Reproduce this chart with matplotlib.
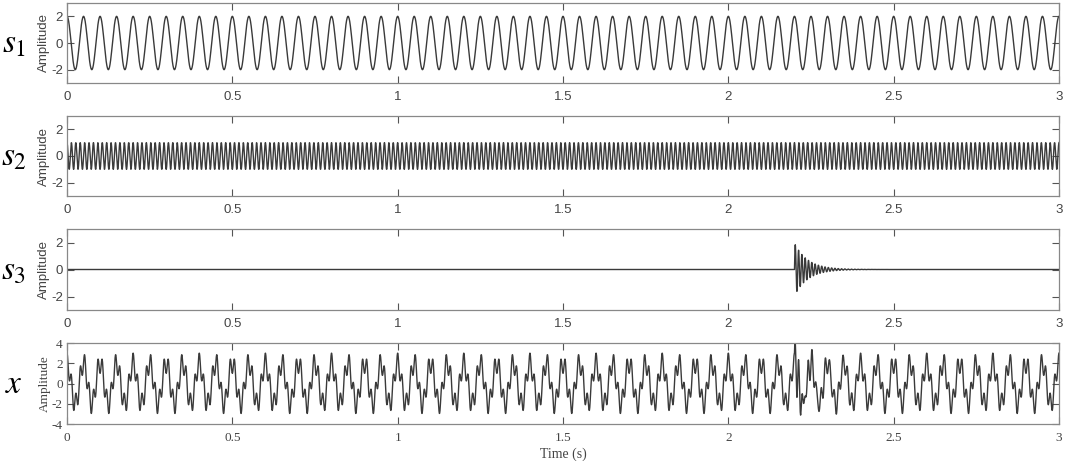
import numpy as np
import matplotlib.pyplot as plt

# signal parameters
fs = 2000                      # samples per second
t_end = 3.0
amps = [2.0, 1.0, 1.95]        # s1, s2, s3
freqs = [20, 75, 100]          # Hz
s3_onset = 2.2                 # s
s3_decay = 25                  # 1/s
names = ['$s_1$', '$s_2$', '$s_3$', '$x$']
xticks = [0, 0.5, 1, 1.5, 2, 2.5, 3]
xtick_labels = ['0', '0.5', '1', '1.5', '2', '2.5', '3']

t = np.arange(0, t_end + 1 / fs, 1 / fs)
s1 = amps[0] * np.cos(2 * np.pi * freqs[0] * t)
s2 = amps[1] * np.cos(2 * np.pi * freqs[1] * t)
tau = np.clip(t - s3_onset, 0, None)
s3 = np.where(t >= s3_onset,
              amps[2] * np.exp(-s3_decay * tau) * np.sin(2 * np.pi * freqs[2] * tau),
              0.0)
x = s1 + s2 + s3

plt.rcParams['mathtext.fontset'] = 'stix'
plt.rcParams['axes.unicode_minus'] = False

W, H = 1065, 461
fig = plt.figure(figsize=(W / 100, H / 100), dpi=100)

# (top, bottom) of each panel in pixels
boxes = [(3, 83), (116, 196), (229, 310), (343, 424)]
left, right = 67, 1059
signals = [s1, s2, s3, x]
line_col = '#3a3a3a'
txt_col = '#444444'

for i, (sig, (top, bot)) in enumerate(zip(signals, boxes)):
    ax = fig.add_axes([left / W, 1 - bot / H, (right - left) / W, (bot - top) / H])
    ax.plot(t, sig, color=line_col, lw=1.0)
    ax.set_xlim(0, 3)
    ax.set_xticks(xticks)
    ax.set_xticklabels(xtick_labels)
    serif = (i == 3)
    fam = 'Liberation Serif' if serif else 'Liberation Sans'
    if serif:
        ax.set_ylim(-4, 4)
        ax.set_yticks([-4, -2, 0, 2, 4])
    else:
        ax.set_ylim(-3, 3)
        ax.set_yticks([-2, 0, 2])
    ax.tick_params(direction='in', top=True, right=True, length=5,
                   width=0.8, colors='#555555', labelcolor=txt_col,
                   labelsize=9.5)
    ax.tick_params(axis='y', pad=3)
    ax.tick_params(axis='x', pad=6)
    for lab in ax.get_xticklabels() + ax.get_yticklabels():
        lab.set_family(fam)
    for sp in ax.spines.values():
        sp.set_color('#888888')
        sp.set_linewidth(0.9)
    ax.set_ylabel('Amplitude', fontsize=9.5, color=txt_col, family=fam, labelpad=1)
    fig.text(14 / W, 1 - (top + bot) / 2 / H, names[i], fontsize=24,
             ha='center', va='center', color='black')

ax.set_xlabel('Time (s)', fontsize=10, family='Liberation Serif',
              color=txt_col, labelpad=2)

fig.savefig('out.png', dpi=100)
